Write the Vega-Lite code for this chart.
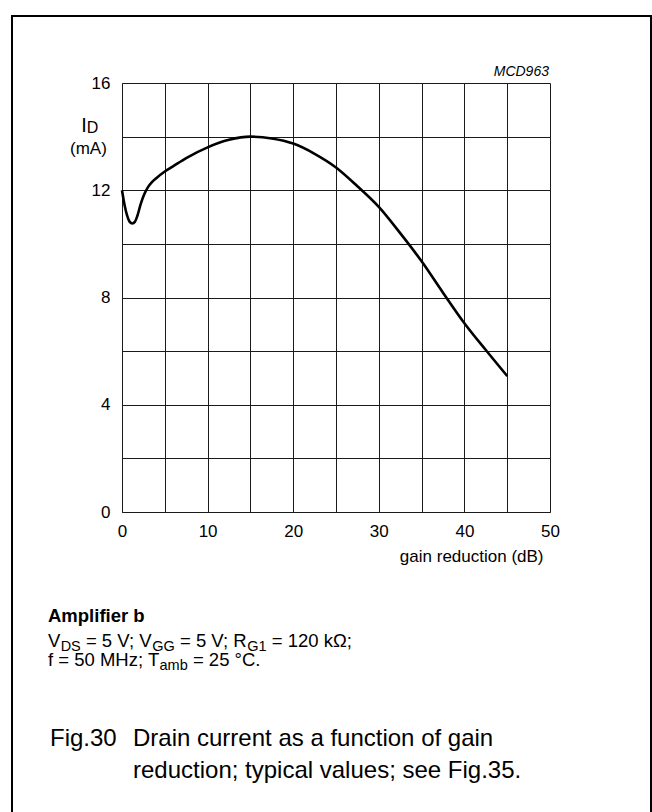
{
  "$schema": "https://vega.github.io/schema/vega-lite/v6.json",
  "width": 428,
  "height": 429,
  "padding": {"left": 122, "top": 83, "right": 102, "bottom": 300},
  "autosize": {"type": "none"},
  "background": "white",
  "config": {
    "font": "Liberation Sans",
    "view": {"stroke": null},
    "text": {"font": "Liberation Sans", "color": "black", "baseline": "alphabetic", "align": "left"}
  },
  "layer": [
    {
      "data": {"values": [
        {"gain": 0, "id": 12.0},
        {"gain": 0.3, "id": 11.45},
        {"gain": 0.6, "id": 11.05},
        {"gain": 0.9, "id": 10.82},
        {"gain": 1.2, "id": 10.76},
        {"gain": 1.5, "id": 10.82},
        {"gain": 1.8, "id": 11.05},
        {"gain": 2.2, "id": 11.5},
        {"gain": 2.6, "id": 11.85},
        {"gain": 3.0, "id": 12.1},
        {"gain": 3.5, "id": 12.3},
        {"gain": 4, "id": 12.45},
        {"gain": 5, "id": 12.7},
        {"gain": 6, "id": 12.9},
        {"gain": 7.5, "id": 13.2},
        {"gain": 10, "id": 13.6},
        {"gain": 12.5, "id": 13.88},
        {"gain": 15, "id": 14.0},
        {"gain": 17.5, "id": 13.93},
        {"gain": 20, "id": 13.74},
        {"gain": 22.5, "id": 13.36},
        {"gain": 25, "id": 12.85},
        {"gain": 27.5, "id": 12.15},
        {"gain": 30, "id": 11.38},
        {"gain": 32.5, "id": 10.4},
        {"gain": 35, "id": 9.35},
        {"gain": 37.5, "id": 8.18},
        {"gain": 40, "id": 7.04},
        {"gain": 42.5, "id": 6.04},
        {"gain": 45, "id": 5.07}
      ]},
      "mark": {"type": "line", "color": "black", "strokeWidth": 2.6, "interpolate": "monotone", "strokeCap": "butt"},
      "encoding": {
        "x": {
          "field": "gain", "type": "quantitative",
          "scale": {"domain": [0, 50], "nice": false, "zero": false},
          "axis": {
            "values": [0, 5, 10, 15, 20, 25, 30, 35, 40, 45, 50],
            "labelExpr": "datum.value % 10 == 0 ? datum.label : ''",
            "grid": true, "gridColor": "#1a1a1a", "gridOpacity": 1, "gridWidth": 1,
            "domain": true, "domainColor": "#1a1a1a", "domainWidth": 1,
            "ticks": false, "labelPadding": 11, "labelFontSize": 17, "labelColor": "black",
            "labelFont": "Liberation Sans", "labelFlush": false,
            "title": "gain reduction (dB)", "titleFontSize": 17, "titleFontWeight": "normal",
            "titleFont": "Liberation Sans", "titleColor": "black",
            "titleAnchor": "end", "titleAlign": "right", "titleX": 421, "titleY": 49,
            "titleBaseline": "alphabetic"
          }
        },
        "y": {
          "field": "id", "type": "quantitative",
          "scale": {"domain": [0, 16], "nice": false, "zero": false},
          "axis": {
            "values": [0, 2, 4, 6, 8, 10, 12, 14, 16],
            "labelExpr": "datum.value % 4 == 0 ? datum.label : ''",
            "grid": true, "gridColor": "#1a1a1a", "gridOpacity": 1, "gridWidth": 1,
            "domain": true, "domainColor": "#1a1a1a", "domainWidth": 1,
            "ticks": false, "labelPadding": 12, "labelFontSize": 17, "labelColor": "black",
            "labelFont": "Liberation Sans", "labelFlush": false,
            "title": null
          }
        }
      }
    },
    {
      "data": {"values": [{}]},
      "mark": {"type": "rect", "filled": false, "stroke": "black", "strokeWidth": 2},
      "encoding": {"x": {"datum": -12.85}, "x2": {"datum": 61.8}, "y": {"datum": 18.5}, "y2": {"datum": -12}}
    },
    {
      "data": {"values": [{}]},
      "mark": {"type": "text", "text": "MCD963", "fontSize": 14, "fontStyle": "italic", "align": "right"},
      "encoding": {"x": {"datum": 49.88}, "y": {"datum": 16.26}}
    },
    {
      "data": {"values": [{}]},
      "mark": {"type": "text", "text": "I", "fontSize": 20},
      "encoding": {"x": {"datum": -4.755}, "y": {"datum": 14.17}}
    },
    {
      "data": {"values": [{}]},
      "mark": {"type": "text", "text": "D", "fontSize": 16},
      "encoding": {"x": {"datum": -4.124}, "y": {"datum": 14.12}}
    },
    {
      "data": {"values": [{}]},
      "mark": {"type": "text", "text": "(mA)", "fontSize": 17},
      "encoding": {"x": {"datum": -6.075}, "y": {"datum": 13.37}}
    },
    {
      "data": {"values": [{}]},
      "mark": {"type": "text", "text": "Amplifier b", "fontSize": 18.5, "fontWeight": "bold"},
      "encoding": {"x": {"datum": -8.645}, "y": {"datum": -4.103}}
    },
    {
      "data": {"values": [{}]},
      "mark": {"type": "text", "text": "V", "fontSize": 18.5},
      "encoding": {"x": {"datum": -8.645}, "y": {"datum": -5.035}}
    },
    {
      "data": {"values": [{}]},
      "mark": {"type": "text", "text": "DS", "fontSize": 14.5},
      "encoding": {"x": {"datum": -7.168}, "y": {"datum": -5.184}}
    },
    {
      "data": {"values": [{}]},
      "mark": {"type": "text", "text": "= 5 V; V", "fontSize": 18.5},
      "encoding": {"x": {"datum": -4.214}, "y": {"datum": -5.035}}
    },
    {
      "data": {"values": [{}]},
      "mark": {"type": "text", "text": "GG", "fontSize": 14.5},
      "encoding": {"x": {"datum": 3.535}, "y": {"datum": -5.184}}
    },
    {
      "data": {"values": [{}]},
      "mark": {"type": "text", "text": "= 5 V; R", "fontSize": 18.5},
      "encoding": {"x": {"datum": 6.771}, "y": {"datum": -5.035}}
    },
    {
      "data": {"values": [{}]},
      "mark": {"type": "text", "text": "G1", "fontSize": 14.5},
      "encoding": {"x": {"datum": 14.64}, "y": {"datum": -5.184}}
    },
    {
      "data": {"values": [{}]},
      "mark": {"type": "text", "text": "= 120 kΩ;", "fontSize": 18.5},
      "encoding": {"x": {"datum": 17.501}, "y": {"datum": -5.035}}
    },
    {
      "data": {"values": [{}]},
      "mark": {"type": "text", "text": "f = 50 MHz; T", "fontSize": 18.5},
      "encoding": {"x": {"datum": -8.645}, "y": {"datum": -5.744}}
    },
    {
      "data": {"values": [{}]},
      "mark": {"type": "text", "text": "amb", "fontSize": 14.5},
      "encoding": {"x": {"datum": 4.386}, "y": {"datum": -5.893}}
    },
    {
      "data": {"values": [{}]},
      "mark": {"type": "text", "text": "= 25 °C.", "fontSize": 18.5},
      "encoding": {"x": {"datum": 8.283}, "y": {"datum": -5.744}}
    },
    {
      "data": {"values": [{}]},
      "mark": {"type": "text", "text": "Fig.30", "fontSize": 24},
      "encoding": {"x": {"datum": -8.411}, "y": {"datum": -8.727}}
    },
    {
      "data": {"values": [{}]},
      "mark": {"type": "text", "text": "Drain current as a function of gain", "fontSize": 24},
      "encoding": {"x": {"datum": 1.285}, "y": {"datum": -8.727}}
    },
    {
      "data": {"values": [{}]},
      "mark": {"type": "text", "text": "reduction; typical values; see Fig.35.", "fontSize": 24},
      "encoding": {"x": {"datum": 1.285}, "y": {"datum": -9.921}}
    }
  ]
}
